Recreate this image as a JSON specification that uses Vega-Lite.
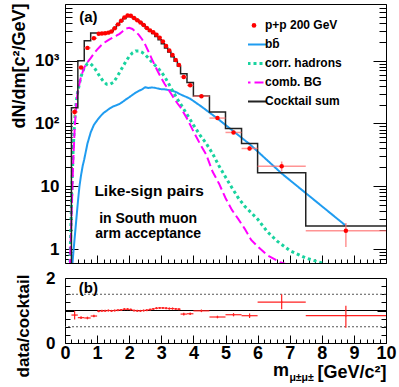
{
"$schema": "https://vega.github.io/schema/vega-lite/v6.json",
"padding": {"left": 9, "top": 2, "right": 5, "bottom": 5},
"background": "white",
"bounds": "flush",
"spacing": 15,
"config": {
  "font": "Liberation Sans",
  "view": {"stroke": "black", "strokeWidth": 1},
  "axis": {"grid": false, "domain": false, "tickColor": "black", "tickWidth": 1, "labelColor": "black", "titleColor": "black", "labelFont": "Liberation Sans", "titleFont": "Liberation Sans", "labelFontWeight": "bold", "titleFontWeight": "bold"}
},
"datasets": {
  "curves": [
    {"series":"bb\u0304","m":0.22,"v":0.5},{"series":"bb\u0304","m":0.27,"v":1.0},{"series":"bb\u0304","m":0.33,"v":2.2},{"series":"bb\u0304","m":0.4,"v":5.5},{"series":"bb\u0304","m":0.45,"v":10},{"series":"bb\u0304","m":0.5,"v":15},{"series":"bb\u0304","m":0.55,"v":21},{"series":"bb\u0304","m":0.6,"v":27},{"series":"bb\u0304","m":0.7,"v":48},{"series":"bb\u0304","m":0.8,"v":72},{"series":"bb\u0304","m":0.9,"v":95},{"series":"bb\u0304","m":1.0,"v":112},{"series":"bb\u0304","m":1.1,"v":130},{"series":"bb\u0304","m":1.2,"v":147},{"series":"bb\u0304","m":1.3,"v":160},{"series":"bb\u0304","m":1.4,"v":175},{"series":"bb\u0304","m":1.5,"v":187},{"series":"bb\u0304","m":1.6,"v":195},{"series":"bb\u0304","m":1.7,"v":205},{"series":"bb\u0304","m":1.8,"v":222},{"series":"bb\u0304","m":1.9,"v":242},{"series":"bb\u0304","m":2.0,"v":262},{"series":"bb\u0304","m":2.1,"v":285},{"series":"bb\u0304","m":2.2,"v":310},{"series":"bb\u0304","m":2.3,"v":330},{"series":"bb\u0304","m":2.4,"v":350},{"series":"bb\u0304","m":2.5,"v":378},{"series":"bb\u0304","m":2.6,"v":368},{"series":"bb\u0304","m":2.7,"v":375},{"series":"bb\u0304","m":2.8,"v":370},{"series":"bb\u0304","m":2.9,"v":360},{"series":"bb\u0304","m":3.0,"v":352},{"series":"bb\u0304","m":3.1,"v":350},{"series":"bb\u0304","m":3.2,"v":343},{"series":"bb\u0304","m":3.3,"v":335},{"series":"bb\u0304","m":3.4,"v":325},{"series":"bb\u0304","m":3.5,"v":310},{"series":"bb\u0304","m":3.6,"v":290},{"series":"bb\u0304","m":3.7,"v":275},{"series":"bb\u0304","m":3.8,"v":262},{"series":"bb\u0304","m":3.9,"v":248},{"series":"bb\u0304","m":4.25,"v":186},{"series":"bb\u0304","m":4.75,"v":120},{"series":"bb\u0304","m":5.25,"v":75},{"series":"bb\u0304","m":5.75,"v":47},{"series":"bb\u0304","m":6.75,"v":16},{"series":"bb\u0304","m":8.75,"v":2.35},
    {"series":"corr. hadrons","m":0.15,"v":0.5},{"series":"corr. hadrons","m":0.2,"v":5},{"series":"corr. hadrons","m":0.25,"v":35},{"series":"corr. hadrons","m":0.3,"v":110},{"series":"corr. hadrons","m":0.35,"v":220},{"series":"corr. hadrons","m":0.4,"v":330},{"series":"corr. hadrons","m":0.5,"v":560},{"series":"corr. hadrons","m":0.6,"v":780},{"series":"corr. hadrons","m":0.7,"v":900},{"series":"corr. hadrons","m":0.8,"v":890},{"series":"corr. hadrons","m":0.9,"v":790},{"series":"corr. hadrons","m":1.0,"v":660},{"series":"corr. hadrons","m":1.1,"v":545},{"series":"corr. hadrons","m":1.2,"v":465},{"series":"corr. hadrons","m":1.3,"v":420},{"series":"corr. hadrons","m":1.4,"v":420},{"series":"corr. hadrons","m":1.5,"v":450},{"series":"corr. hadrons","m":1.6,"v":530},{"series":"corr. hadrons","m":1.7,"v":650},{"series":"corr. hadrons","m":1.8,"v":800},{"series":"corr. hadrons","m":1.9,"v":980},{"series":"corr. hadrons","m":2.0,"v":1170},{"series":"corr. hadrons","m":2.1,"v":1330},{"series":"corr. hadrons","m":2.2,"v":1430},{"series":"corr. hadrons","m":2.3,"v":1430},{"series":"corr. hadrons","m":2.4,"v":1360},{"series":"corr. hadrons","m":2.5,"v":1240},{"series":"corr. hadrons","m":2.6,"v":1100},{"series":"corr. hadrons","m":2.7,"v":960},{"series":"corr. hadrons","m":2.8,"v":850},{"series":"corr. hadrons","m":2.9,"v":760},{"series":"corr. hadrons","m":3.0,"v":660},{"series":"corr. hadrons","m":3.1,"v":560},{"series":"corr. hadrons","m":3.2,"v":460},{"series":"corr. hadrons","m":3.3,"v":370},{"series":"corr. hadrons","m":3.4,"v":300},{"series":"corr. hadrons","m":3.5,"v":245},{"series":"corr. hadrons","m":3.6,"v":205},{"series":"corr. hadrons","m":3.8,"v":140},{"series":"corr. hadrons","m":4.0,"v":95},{"series":"corr. hadrons","m":4.2,"v":66},{"series":"corr. hadrons","m":4.4,"v":48},{"series":"corr. hadrons","m":4.6,"v":33},{"series":"corr. hadrons","m":4.8,"v":21},{"series":"corr. hadrons","m":5.0,"v":14},{"series":"corr. hadrons","m":5.2,"v":9.5},{"series":"corr. hadrons","m":5.4,"v":6.5},{"series":"corr. hadrons","m":5.6,"v":4.8},{"series":"corr. hadrons","m":5.8,"v":3.8},{"series":"corr. hadrons","m":6.0,"v":3.0},{"series":"corr. hadrons","m":6.3,"v":1.9},{"series":"corr. hadrons","m":6.6,"v":1.35},{"series":"corr. hadrons","m":7.0,"v":0.95},{"series":"corr. hadrons","m":7.5,"v":0.72},{"series":"corr. hadrons","m":8.0,"v":0.6},{"series":"corr. hadrons","m":8.2,"v":0.55},
    {"series":"comb. BG","m":0.15,"v":0.5},{"series":"comb. BG","m":0.2,"v":3},{"series":"comb. BG","m":0.25,"v":20},{"series":"comb. BG","m":0.3,"v":80},{"series":"comb. BG","m":0.35,"v":200},{"series":"comb. BG","m":0.4,"v":330},{"series":"comb. BG","m":0.5,"v":560},{"series":"comb. BG","m":0.6,"v":780},{"series":"comb. BG","m":0.7,"v":950},{"series":"comb. BG","m":0.8,"v":1100},{"series":"comb. BG","m":0.9,"v":1300},{"series":"comb. BG","m":1.0,"v":1500},{"series":"comb. BG","m":1.1,"v":1700},{"series":"comb. BG","m":1.2,"v":1900},{"series":"comb. BG","m":1.3,"v":2050},{"series":"comb. BG","m":1.4,"v":2200},{"series":"comb. BG","m":1.5,"v":2350},{"series":"comb. BG","m":1.6,"v":2500},{"series":"comb. BG","m":1.7,"v":2680},{"series":"comb. BG","m":1.8,"v":2950},{"series":"comb. BG","m":1.9,"v":3250},{"series":"comb. BG","m":2.0,"v":3350},{"series":"comb. BG","m":2.1,"v":3200},{"series":"comb. BG","m":2.2,"v":2900},{"series":"comb. BG","m":2.3,"v":2580},{"series":"comb. BG","m":2.4,"v":2200},{"series":"comb. BG","m":2.5,"v":1800},{"series":"comb. BG","m":2.6,"v":1400},{"series":"comb. BG","m":2.7,"v":1080},{"series":"comb. BG","m":2.8,"v":840},{"series":"comb. BG","m":2.9,"v":660},{"series":"comb. BG","m":3.0,"v":530},{"series":"comb. BG","m":3.1,"v":430},{"series":"comb. BG","m":3.2,"v":360},{"series":"comb. BG","m":3.3,"v":300},{"series":"comb. BG","m":3.4,"v":250},{"series":"comb. BG","m":3.5,"v":210},{"series":"comb. BG","m":3.6,"v":180},{"series":"comb. BG","m":3.8,"v":120},{"series":"comb. BG","m":3.9,"v":95},{"series":"comb. BG","m":4.0,"v":75},{"series":"comb. BG","m":4.2,"v":48},{"series":"comb. BG","m":4.4,"v":32},{"series":"comb. BG","m":4.6,"v":17},{"series":"comb. BG","m":4.8,"v":11},{"series":"comb. BG","m":5.0,"v":6.5},{"series":"comb. BG","m":5.2,"v":4.2},{"series":"comb. BG","m":5.4,"v":3.0},{"series":"comb. BG","m":5.6,"v":2.1},{"series":"comb. BG","m":5.8,"v":1.4},{"series":"comb. BG","m":6.0,"v":1.1},{"series":"comb. BG","m":6.3,"v":0.8},{"series":"comb. BG","m":6.7,"v":0.62},{"series":"comb. BG","m":7.0,"v":0.55}
  ],
  "cocktail": [
    {"m":0.2,"v":0.3},{"m":0.2,"v":178},{"m":0.4,"v":1000},{"m":0.6,"v":2080},{"m":0.8,"v":2750},{"m":1.0,"v":2750},{"m":1.1,"v":2750},{"m":1.2,"v":2760},{"m":1.3,"v":2800},{"m":1.4,"v":2950},{"m":1.5,"v":3300},{"m":1.6,"v":3750},{"m":1.7,"v":4250},{"m":1.8,"v":4700},{"m":1.9,"v":5050},{"m":2.0,"v":5050},{"m":2.1,"v":4800},{"m":2.2,"v":4450},{"m":2.3,"v":4100},{"m":2.4,"v":3700},{"m":2.5,"v":3300},{"m":2.6,"v":2950},{"m":2.7,"v":2700},{"m":2.8,"v":2420},{"m":2.9,"v":2150},{"m":3.0,"v":1870},{"m":3.1,"v":1600},{"m":3.2,"v":1370},{"m":3.3,"v":1160},{"m":3.4,"v":980},{"m":3.5,"v":820},{"m":3.6,"v":620},{"m":3.8,"v":450},{"m":4.0,"v":275},{"m":4.5,"v":152},{"m":5.0,"v":83},{"m":5.5,"v":48},{"m":6.0,"v":16.5},{"m":7.5,"v":2.33},{"m":10.0,"v":2.33}
  ],
  "pts": [
    {"m":0.3,"lo":0.2,"hi":0.4,"v":153,"vlo":128,"vhi":176,"r":0.86,"rlo":0.72,"rhi":0.99},
    {"m":0.5,"lo":0.4,"hi":0.6,"v":780,"vlo":740,"vhi":820,"r":0.78,"rlo":0.74,"rhi":0.82},
    {"m":0.7,"lo":0.6,"hi":0.8,"v":1600,"vlo":1520,"vhi":1685,"r":0.77,"rlo":0.73,"rhi":0.81},
    {"m":0.9,"lo":0.8,"hi":1.0,"v":2280,"vlo":2170,"vhi":2390,"r":0.83,"rlo":0.79,"rhi":0.87},
    {"m":1.05,"lo":1.0,"hi":1.1,"v":2695,"vlo":2615,"vhi":2775,"r":0.98,"rlo":0.95,"rhi":1.01},
    {"m":1.15,"lo":1.1,"hi":1.2,"v":2720,"vlo":2640,"vhi":2800,"r":0.99,"rlo":0.96,"rhi":1.02},
    {"m":1.25,"lo":1.2,"hi":1.3,"v":2730,"vlo":2650,"vhi":2810,"r":0.99,"rlo":0.96,"rhi":1.02},
    {"m":1.35,"lo":1.3,"hi":1.4,"v":2800,"vlo":2715,"vhi":2885,"r":1.0,"rlo":0.97,"rhi":1.03},
    {"m":1.45,"lo":1.4,"hi":1.5,"v":2920,"vlo":2830,"vhi":3010,"r":0.99,"rlo":0.96,"rhi":1.02},
    {"m":1.55,"lo":1.5,"hi":1.6,"v":3300,"vlo":3200,"vhi":3400,"r":1.0,"rlo":0.97,"rhi":1.03},
    {"m":1.65,"lo":1.6,"hi":1.7,"v":3790,"vlo":3675,"vhi":3905,"r":1.01,"rlo":0.98,"rhi":1.04},
    {"m":1.75,"lo":1.7,"hi":1.8,"v":4335,"vlo":4205,"vhi":4465,"r":1.02,"rlo":0.99,"rhi":1.05},
    {"m":1.85,"lo":1.8,"hi":1.9,"v":4890,"vlo":4745,"vhi":5035,"r":1.04,"rlo":1.01,"rhi":1.07},
    {"m":1.95,"lo":1.9,"hi":2.0,"v":5250,"vlo":5090,"vhi":5410,"r":1.04,"rlo":1.01,"rhi":1.07},
    {"m":2.05,"lo":2.0,"hi":2.1,"v":5200,"vlo":5045,"vhi":5355,"r":1.03,"rlo":1.0,"rhi":1.06},
    {"m":2.15,"lo":2.1,"hi":2.2,"v":4800,"vlo":4655,"vhi":4945,"r":1.0,"rlo":0.97,"rhi":1.03},
    {"m":2.25,"lo":2.2,"hi":2.3,"v":4405,"vlo":4275,"vhi":4535,"r":0.99,"rlo":0.96,"rhi":1.02},
    {"m":2.35,"lo":2.3,"hi":2.4,"v":4060,"vlo":3940,"vhi":4180,"r":0.99,"rlo":0.96,"rhi":1.02},
    {"m":2.45,"lo":2.4,"hi":2.5,"v":3700,"vlo":3590,"vhi":3810,"r":1.0,"rlo":0.97,"rhi":1.03},
    {"m":2.55,"lo":2.5,"hi":2.6,"v":3330,"vlo":3230,"vhi":3430,"r":1.01,"rlo":0.98,"rhi":1.04},
    {"m":2.65,"lo":2.6,"hi":2.7,"v":3040,"vlo":2950,"vhi":3130,"r":1.03,"rlo":1.0,"rhi":1.06},
    {"m":2.75,"lo":2.7,"hi":2.8,"v":2835,"vlo":2750,"vhi":2920,"r":1.05,"rlo":1.02,"rhi":1.08},
    {"m":2.85,"lo":2.8,"hi":2.9,"v":2590,"vlo":2510,"vhi":2670,"r":1.07,"rlo":1.04,"rhi":1.1},
    {"m":2.95,"lo":2.9,"hi":3.0,"v":2320,"vlo":2250,"vhi":2390,"r":1.08,"rlo":1.05,"rhi":1.11},
    {"m":3.05,"lo":3.0,"hi":3.1,"v":2020,"vlo":1960,"vhi":2080,"r":1.08,"rlo":1.05,"rhi":1.11},
    {"m":3.15,"lo":3.1,"hi":3.2,"v":1710,"vlo":1660,"vhi":1760,"r":1.07,"rlo":1.04,"rhi":1.1},
    {"m":3.25,"lo":3.2,"hi":3.3,"v":1450,"vlo":1405,"vhi":1495,"r":1.06,"rlo":1.03,"rhi":1.09},
    {"m":3.35,"lo":3.3,"hi":3.4,"v":1230,"vlo":1190,"vhi":1270,"r":1.06,"rlo":1.03,"rhi":1.09},
    {"m":3.45,"lo":3.4,"hi":3.5,"v":1030,"vlo":995,"vhi":1065,"r":1.05,"rlo":1.02,"rhi":1.08},
    {"m":3.55,"lo":3.5,"hi":3.6,"v":853,"vlo":825,"vhi":880,"r":1.04,"rlo":1.01,"rhi":1.07},
    {"m":3.7,"lo":3.6,"hi":3.8,"v":552,"vlo":525,"vhi":580,"r":0.89,"rlo":0.85,"rhi":0.93},
    {"m":3.9,"lo":3.8,"hi":4.0,"v":405,"vlo":385,"vhi":425,"r":0.9,"rlo":0.86,"rhi":0.94},
    {"m":4.25,"lo":4.0,"hi":4.5,"v":272,"vlo":261,"vhi":283,"r":0.99,"rlo":0.95,"rhi":1.03},
    {"m":4.75,"lo":4.5,"hi":5.0,"v":122,"vlo":116,"vhi":128,"r":0.8,"rlo":0.76,"rhi":0.84},
    {"m":5.25,"lo":5.0,"hi":5.5,"v":72,"vlo":68,"vhi":76,"r":0.87,"rlo":0.82,"rhi":0.92},
    {"m":5.75,"lo":5.5,"hi":6.0,"v":40,"vlo":37,"vhi":43.5,"r":0.84,"rlo":0.77,"rhi":0.91},
    {"m":6.75,"lo":6.0,"hi":7.5,"v":20.8,"vlo":17.2,"vhi":24.8,"r":1.26,"rlo":1.04,"rhi":1.5},
    {"m":8.75,"lo":7.5,"hi":10.0,"v":1.96,"vlo":1.08,"vhi":2.6,"r":0.84,"rlo":0.47,"rhi":1.15}
  ]
},
"vconcat": [
  {
    "width": 321, "height": 259,
    "layer": [
      {
        "data": {"name": "curves"},
        "mark": {"type": "line", "clip": true},
        "encoding": {
          "x": {"field": "m", "type": "quantitative", "scale": {"domain": [0, 10], "nice": false, "zero": false},
                "axis": {"orient": "bottom", "values": [0,1,2,3,4,5,6,7,8,9,10], "tickSize": -8, "labels": false, "title": null}},
          "y": {"field": "v", "type": "quantitative", "scale": {"type": "log", "domain": [0.6, 8000], "nice": false},
                "axis": {"orient": "left", "values": [1,10,100,1000], "ticks": false, "labelExpr": "datum.value==1000?'10\u00b3':datum.value==100?'10\u00b2':datum.value==10?'10':'1'", "labelFontSize": 17, "labelPadding": 6, "labelFlush": false, "labelOverlap": false,
                         "title": "dN/dm[c\u00b2/GeV]", "titleFontSize": 18, "titleAngle": 270, "titleAlign": "right", "titleBaseline": "alphabetic", "titleX": -41, "titleY": -1}},
          "color": {"field": "series", "type": "nominal",
                    "scale": {"domain": ["p+p 200 GeV", "bb\u0304", "corr. hadrons", "comb. BG", "Cocktail sum"], "range": ["#ff0000", "#1f9cf0", "#19d39f", "#ff00ff", "#222222"]},
                    "legend": {"orient": "none", "legendX": 183, "legendY": 12, "title": null, "symbolType": "stroke", "symbolSize": 625, "symbolStrokeWidth": 2, "labelFont": "Liberation Sans", "labelFontWeight": "bold", "labelFontSize": 12, "labelColor": "black", "labelOffset": 5, "rowPadding": 0, "clipHeight": 18.8, "padding": 0,
                               "encode": {"symbols": {"update": {
                                 "shape": {"signal": "datum.value === 'p+p 200 GeV' ? 'circle' : 'stroke'"},
                                 "size": {"signal": "datum.value === 'p+p 200 GeV' ? 22 : 625"},
                                 "fill": {"signal": "datum.value === 'p+p 200 GeV' ? '#ff0000' : 'transparent'"},
                                 "strokeWidth": {"signal": "datum.value === 'p+p 200 GeV' ? 0 : datum.value === 'corr. hadrons' ? 3 : 2"}}}}}},
          "strokeDash": {"field": "series", "type": "nominal",
                    "scale": {"domain": ["p+p 200 GeV", "bb\u0304", "corr. hadrons", "comb. BG", "Cocktail sum"], "range": [[1,0],[1,0],[3,3],[9,4],[1,0]]},
                    "legend": {"orient": "none", "legendX": 183, "legendY": 12, "title": null, "symbolType": "stroke", "symbolSize": 625, "symbolStrokeWidth": 2, "labelFont": "Liberation Sans", "labelFontWeight": "bold", "labelFontSize": 12, "labelColor": "black", "labelOffset": 5, "rowPadding": 0, "clipHeight": 18.8, "padding": 0,
                               "encode": {"symbols": {"update": {
                                 "shape": {"signal": "datum.value === 'p+p 200 GeV' ? 'circle' : 'stroke'"},
                                 "size": {"signal": "datum.value === 'p+p 200 GeV' ? 22 : 625"},
                                 "fill": {"signal": "datum.value === 'p+p 200 GeV' ? '#ff0000' : 'transparent'"},
                                 "strokeWidth": {"signal": "datum.value === 'p+p 200 GeV' ? 0 : datum.value === 'corr. hadrons' ? 3 : 2"}}}}}},
          "strokeWidth": {"condition": {"test": "datum.series === 'corr. hadrons'", "value": 3}, "value": 2}
        }
      },
      {
        "data": {"name": "cocktail"},
        "mark": {"type": "line", "interpolate": "step-after", "clip": true, "color": "#222222", "strokeWidth": 1.5},
        "encoding": {
          "x": {"field": "m", "type": "quantitative", "scale": {"domain": [0, 10], "nice": false, "zero": false},
                "axis": {"orient": "bottom", "values": [0.2,0.4,0.6,0.8,1.2,1.4,1.6,1.8,2.2,2.4,2.6,2.8,3.2,3.4,3.6,3.8,4.2,4.4,4.6,4.8,5.2,5.4,5.6,5.8,6.2,6.4,6.6,6.8,7.2,7.4,7.6,7.8,8.2,8.4,8.6,8.8,9.2,9.4,9.6,9.8], "tickSize": -4, "labels": false, "title": null}},
          "y": {"field": "v", "type": "quantitative", "scale": {"type": "log", "domain": [0.6, 8000], "nice": false},
                "axis": {"orient": "left", "values": [1,10,100,1000], "tickSize": -13, "labels": false, "title": null}}
        }
      },
      {
        "data": {"name": "pts"},
        "mark": {"type": "rule", "color": "#ff7070", "strokeWidth": 1.5, "opacity": 0.75},
        "encoding": {
          "x": {"field": "m", "type": "quantitative", "scale": {"domain": [0, 10], "nice": false, "zero": false}, "axis": null},
          "y": {"field": "vlo", "type": "quantitative", "scale": {"type": "log", "domain": [0.6, 8000], "nice": false},
                "axis": {"orient": "left", "values": [0.7,0.8,0.9,2,3,4,5,6,7,8,9,20,30,40,50,60,70,80,90,200,300,400,500,600,700,800,900,2000,3000,4000,5000,6000,7000,8000], "tickSize": -7, "labels": false, "title": null}},
          "y2": {"field": "vhi"}
        }
      },
      {
        "data": {"name": "pts"},
        "mark": {"type": "rule", "color": "#ff7070", "strokeWidth": 1.5, "opacity": 0.75},
        "encoding": {
          "x": {"field": "lo", "type": "quantitative", "scale": {"domain": [0, 10], "nice": false, "zero": false}, "axis": null},
          "x2": {"field": "hi"},
          "y": {"field": "v", "type": "quantitative", "scale": {"type": "log", "domain": [0.6, 8000], "nice": false},
                "axis": {"orient": "right", "values": [1,10,100,1000], "tickSize": -13, "labels": false, "title": null}}
        }
      },
      {
        "data": {"name": "pts"},
        "mark": {"type": "circle", "color": "#ff0000", "size": 20, "opacity": 1},
        "encoding": {
          "x": {"field": "m", "type": "quantitative", "scale": {"domain": [0, 10], "nice": false, "zero": false}, "axis": null},
          "y": {"field": "v", "type": "quantitative", "scale": {"type": "log", "domain": [0.6, 8000], "nice": false},
                "axis": {"orient": "right", "values": [0.7,0.8,0.9,2,3,4,5,6,7,8,9,20,30,40,50,60,70,80,90,200,300,400,500,600,700,800,900,2000,3000,4000,5000,6000,7000,8000], "tickSize": -7, "labels": false, "title": null}}
        }
      },
      {
        "data": {"values": [{}]},
        "mark": {"type": "text", "font": "Liberation Sans", "fontWeight": "bold", "fontSize": 15, "align": "center", "baseline": "middle", "color": "black"},
        "encoding": {"x": {"datum": 0.73, "type": "quantitative", "axis": null}, "y": {"datum": 5000, "type": "quantitative", "axis": null}, "text": {"value": "(a)"}}
      },
      {
        "data": {"values": [{}]},
        "mark": {"type": "text", "font": "Liberation Sans", "fontWeight": "bold", "fontSize": 15.5, "align": "center", "baseline": "alphabetic", "color": "black"},
        "encoding": {"x": {"datum": 2.62, "type": "quantitative", "axis": null}, "y": {"datum": 7.0, "type": "quantitative", "axis": null}, "text": {"value": "Like-sign pairs"}}
      },
      {
        "data": {"values": [{}]},
        "mark": {"type": "text", "font": "Liberation Sans", "fontWeight": "bold", "fontSize": 14, "align": "center", "baseline": "alphabetic", "color": "black"},
        "encoding": {"x": {"datum": 2.59, "type": "quantitative", "axis": null}, "y": {"datum": 2.63, "type": "quantitative", "axis": null}, "text": {"value": "in South muon"}}
      },
      {
        "data": {"values": [{}]},
        "mark": {"type": "text", "font": "Liberation Sans", "fontWeight": "bold", "fontSize": 14, "align": "center", "baseline": "alphabetic", "color": "black"},
        "encoding": {"x": {"datum": 2.59, "type": "quantitative", "axis": null}, "y": {"datum": 1.51, "type": "quantitative", "axis": null}, "text": {"value": "arm acceptance"}}
      }
    ],
    "resolve": {"axis": {"x": "independent", "y": "independent"}}
  },
  {
    "width": 321, "height": 65,
    "layer": [
      {
        "data": {"values": [{"ref": 0.5}, {"ref": 1.5}]},
        "mark": {"type": "rule", "color": "#555555", "strokeWidth": 1, "strokeDash": [2, 2]},
        "encoding": {
          "y": {"field": "ref", "type": "quantitative", "scale": {"domain": [0, 2], "nice": false, "zero": false},
                "axis": {"orient": "right", "values": [0,1,2], "tickSize": -9, "labels": false, "title": null}}
        }
      },
      {
        "data": {"values": [{"ref": 1}]},
        "mark": {"type": "rule", "color": "black", "strokeWidth": 1},
        "encoding": {
          "y": {"field": "ref", "type": "quantitative", "scale": {"domain": [0, 2], "nice": false, "zero": false},
                "axis": {"orient": "right", "values": [0.25,0.5,0.75,1.25,1.5,1.75], "tickSize": -5, "labels": false, "title": null}}
        }
      },
      {
        "data": {"name": "pts"},
        "mark": {"type": "rule", "color": "#ff2020", "strokeWidth": 1.2},
        "encoding": {
          "x": {"field": "m", "type": "quantitative", "scale": {"domain": [0, 10], "nice": false, "zero": false},
                "axis": {"orient": "bottom", "values": [0,1,2,3,4,5,6,7,8,9,10], "ticks": false, "format": "d", "labelFontSize": 18, "labelPadding": 1, "labelFlush": false, "labelOverlap": false,
                         "title": "[GeV/c\u00b2]", "titleFontSize": 18, "titleAnchor": "end", "titleAlign": "right", "titleBaseline": "alphabetic", "titleX": 321, "titleY": 34}},
          "y": {"field": "rlo", "type": "quantitative", "scale": {"domain": [0, 2], "nice": false, "zero": false},
                "axis": {"orient": "left", "values": [0,1,2], "ticks": false, "format": "d", "labelFontSize": 17, "labelPadding": 10, "labelFlush": false, "labelOverlap": false,
                         "title": "data/cocktail", "titleFontSize": 17, "titleAngle": 270, "titleAlign": "right", "titleBaseline": "alphabetic", "titleX": -37, "titleY": -4}},
          "y2": {"field": "rhi"}
        }
      },
      {
        "data": {"name": "pts"},
        "mark": {"type": "rule", "color": "#ff2020", "strokeWidth": 1.2},
        "encoding": {
          "x": {"field": "lo", "type": "quantitative", "scale": {"domain": [0, 10], "nice": false, "zero": false},
                "axis": {"orient": "bottom", "values": [0,1,2,3,4,5,6,7,8,9,10], "tickSize": -8, "labels": false, "title": null}},
          "x2": {"field": "hi"},
          "y": {"field": "r", "type": "quantitative", "scale": {"domain": [0, 2], "nice": false, "zero": false},
                "axis": {"orient": "left", "values": [0,1,2], "tickSize": -9, "labels": false, "title": null}}
        }
      },
      {
        "data": {"name": "pts"},
        "mark": {"type": "circle", "color": "#ff2020", "size": 3, "opacity": 1},
        "encoding": {
          "x": {"field": "m", "type": "quantitative", "scale": {"domain": [0, 10], "nice": false, "zero": false},
                "axis": {"orient": "bottom", "values": [0.2,0.4,0.6,0.8,1.2,1.4,1.6,1.8,2.2,2.4,2.6,2.8,3.2,3.4,3.6,3.8,4.2,4.4,4.6,4.8,5.2,5.4,5.6,5.8,6.2,6.4,6.6,6.8,7.2,7.4,7.6,7.8,8.2,8.4,8.6,8.8,9.2,9.4,9.6,9.8], "tickSize": -4, "labels": false, "title": null}},
          "y": {"field": "r", "type": "quantitative", "scale": {"domain": [0, 2], "nice": false, "zero": false},
                "axis": {"orient": "left", "values": [0.25,0.5,0.75,1.25,1.5,1.75], "tickSize": -5, "labels": false, "title": null}}
        }
      },
      {
        "data": {"values": [{}]},
        "mark": {"type": "text", "font": "Liberation Sans", "fontWeight": "bold", "fontSize": 15, "align": "center", "baseline": "middle", "color": "black"},
        "encoding": {"x": {"datum": 0.73, "type": "quantitative", "axis": null}, "y": {"datum": 1.7, "type": "quantitative", "axis": null}, "text": {"value": "(b)"}}
      },
      {
        "data": {"values": [{}]},
        "mark": {"type": "text", "font": "Liberation Sans", "fontWeight": "bold", "fontSize": 18, "align": "right", "baseline": "alphabetic", "color": "black"},
        "encoding": {"x": {"datum": 6.98, "type": "quantitative", "axis": null}, "y": {"datum": -1.02, "type": "quantitative", "axis": null}, "text": {"value": "m"}}
      },
      {
        "data": {"values": [{}]},
        "mark": {"type": "text", "font": "Liberation Sans", "fontWeight": "bold", "fontSize": 10.5, "align": "left", "baseline": "alphabetic", "color": "black"},
        "encoding": {"x": {"datum": 6.99, "type": "quantitative", "axis": null}, "y": {"datum": -1.16, "type": "quantitative", "axis": null}, "text": {"value": "\u03bc\u00b1\u03bc\u00b1"}}
      }
    ],
    "resolve": {"axis": {"x": "independent", "y": "independent"}}
  }
]
}
